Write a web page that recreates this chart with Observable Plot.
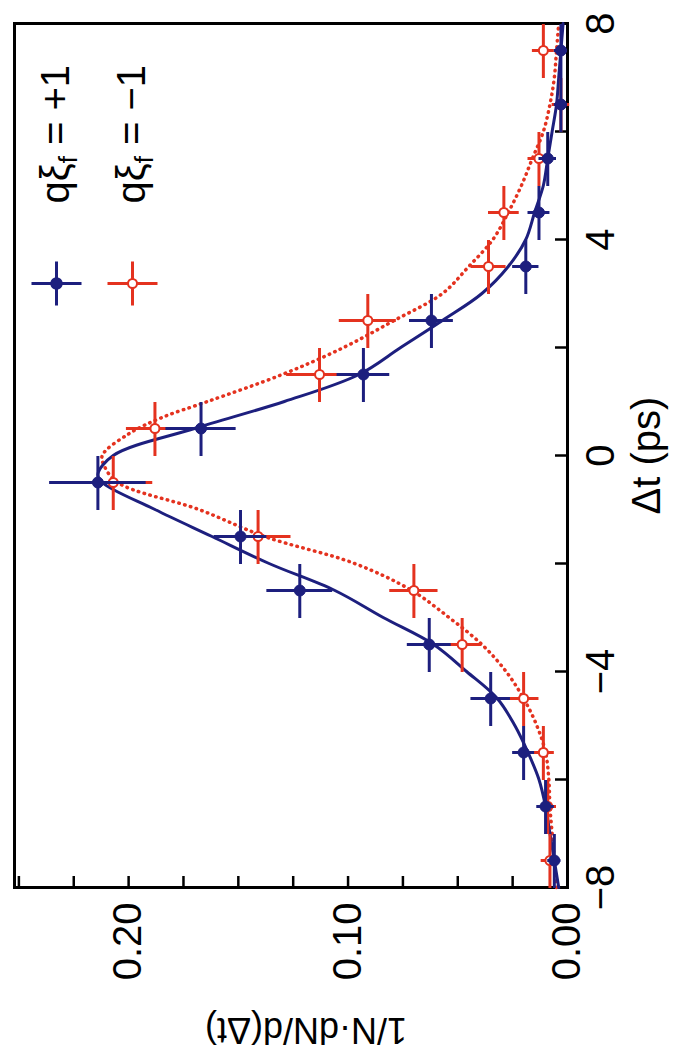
<!DOCTYPE html>
<html><head><meta charset="utf-8">
<script src="https://cdn.jsdelivr.net/npm/d3@7"></script>
<script src="https://cdn.jsdelivr.net/npm/@observablehq/plot@0.6"></script>
<style>
html,body{margin:0;padding:0;background:#fff;}
#wrap{position:relative;width:686px;height:1057px;overflow:hidden;background:#fff;}
#wrap svg{position:absolute;left:0;top:0;transform-origin:0 0;transform:translate(0px,1057px) rotate(-90deg);max-width:none !important;}
</style></head><body><div id="wrap"></div>
<script>
// bin centres (ps)
const deltaT = [-7.5,-6.5,-5.5,-4.5,-3.5,-2.5,-1.5,-0.5,0.5,1.5,2.5,3.5,4.5,5.5,6.5,7.5];
// q·ξf = +1 (blue, filled)
const blueVal = [0.006,0.010,0.020,0.035,0.063,0.122,0.149,0.214,0.167,0.093,0.062,0.019,0.013,0.009,0.003,0.003];
const blueErr = [0.003,0.004,0.005,0.009,0.010,0.015,0.012,0.022,0.016,0.012,0.010,0.006,0.005,0.004,0.003,0.003];
// q·ξf = −1 (red, open)
const redVal  = [0.008,0.009,0.011,0.020,0.048,0.070,0.141,0.207,0.188,0.113,0.091,0.036,0.029,0.013,0.003,0.011];
const redErr  = [0.004,0.004,0.005,0.007,0.009,0.011,0.015,0.018,0.013,0.015,0.013,0.008,0.007,0.005,0.004,0.005];
// fitted curves
const blueCurveT = [-8,-7.5,-7,-6.5,-6,-5.5,-5,-4.5,-4,-3.5,-3,-2.5,-2,-1.5,-1,-0.5,-0.35,0,0.5,1,1.5,2,2.5,3,3.5,4,4.5,5,5.5,6,6.5,7,7.5,8];
const blueCurveV = [0.004,0.006,0.008,0.010,0.013,0.018,0.024,0.032,0.046,0.061,0.084,0.106,0.136,0.162,0.188,0.212,0.214,0.207,0.170,0.129,0.095,0.076,0.057,0.039,0.027,0.019,0.015,0.011,0.009,0.007,0.005,0.004,0.003,0.002];
const redCurveT = [-8,-7.5,-7,-6.5,-6,-5.5,-5,-4.5,-4,-3.5,-3,-2.5,-2,-1.5,-1,-0.5,-0.2,0,0.4,0.7,1,1.5,2,2.5,3,3.5,4,4.5,5,5.5,6,6.5,7,7.5,8];
const redCurveV = [0.005,0.006,0.007,0.008,0.0085,0.010,0.014,0.020,0.028,0.039,0.054,0.071,0.097,0.138,0.168,0.205,0.211,0.212,0.200,0.185,0.164,0.130,0.102,0.079,0.057,0.045,0.034,0.027,0.021,0.016,0.011,0.008,0.006,0.005,0.004];
// ticks
const xTicks = [-8,-6,-4,-2,0,2,4,6,8];
const xLabels = [-8,-4,0,4,8];
const yTicks = [0.025,0.05,0.075,0.1,0.125,0.15,0.175,0.2,0.225,0.25];
const yLabels = [0,0.1,0.2];
const xTitle = "Δt (ps)";
const yTitle = "1/N·dN/d(Δt)";
const legendLabels = ["qξf = +1", "qξf = −1"];

const blue = "#1d1f7e", red = "#e4321f";
const bluePts = deltaT.map((t,i)=>({t, v: blueVal[i], e: blueErr[i]}));
const redPts = deltaT.map((t,i)=>({t, v: redVal[i], e: redErr[i]}));
const blueCurve = blueCurveT.map((t,i)=>({t, v: blueCurveV[i]}));
const redCurve = redCurveT.map((t,i)=>({t, v: redCurveV[i]}));

const crossSym = {draw(ctx){ ctx.moveTo(-22,0); ctx.lineTo(22,0); ctx.moveTo(0,-25); ctx.lineTo(0,25); }};

function errMarks(pts, color, open){
  return [
    Plot.ruleY(pts, {y: "v", x1: d=>d.t-0.5, x2: d=>d.t+0.5, stroke: color, strokeWidth: 3}),
    Plot.ruleX(pts, {x: "t", y1: d=>d.v-d.e, y2: d=>d.v+d.e, stroke: color, strokeWidth: 3}),
    Plot.dot(pts, {x: "t", y: "v", r: open ? 4.5 : 5.5, fill: open ? "white" : color, stroke: color, strokeWidth: open ? 2 : 1})
  ];
}

const W = 1057, H = 686;
const chart = Plot.plot({
  width: W, height: H,
  marginLeft: 169, marginRight: 24, marginTop: 14, marginBottom: 119,
  style: {fontFamily: "'Liberation Sans', Arial, sans-serif", fontSize: "40px", background: "white", color: "black", overflow: "visible"},
  x: {domain: [-8, 8], label: null},
  y: {domain: [0, 0.252], label: null},
  marks: [
    Plot.frame({stroke: "black", strokeWidth: 3}),
    Plot.tickX(xTicks, {x: d=>d, stroke: "black", strokeWidth: 2.5, insetTop: 541}),
    Plot.tickY(yTicks, {y: d=>d, stroke: "black", strokeWidth: 2.5, insetRight: 852}),
    Plot.axisX(xLabels, {tickSize: 0, tickPadding: 18, fontSize: 40, label: null}),
    Plot.axisY(yLabels, {tickSize: 0, tickPadding: 15, fontSize: 40, tickFormat: d3.format(".2f"), label: null}),
    Plot.text([xTitle], {text: d=>d, frameAnchor: "bottom", dy: 64, lineAnchor: "top", fontSize: 40}),
    Plot.text([yTitle], {text: d=>d, frameAnchor: "left", dx: -142, dy: 15, rotate: -90, textAnchor: "middle", lineAnchor: "middle", fontSize: 36}),
    Plot.line(redCurve, {x: "t", y: "v", stroke: red, strokeWidth: 3.5, strokeDasharray: "0.5,5.5", strokeLinecap: "round", curve: "catmull-rom"}),
    Plot.line(blueCurve, {x: "t", y: "v", stroke: blue, strokeWidth: 3, curve: "catmull-rom"}),
    ...errMarks(redPts, red, true),
    ...errMarks(bluePts, blue, false),
    // legend
    Plot.dot([0], {frameAnchor: "top-right", dx: -260, dy: 42, symbol: crossSym, r: 5, fill: "none", stroke: blue, strokeWidth: 3}),
    Plot.dot([0], {frameAnchor: "top-right", dx: -260, dy: 42, r: 5.5, fill: blue, stroke: blue}),
    Plot.dot([0], {frameAnchor: "top-right", dx: -260, dy: 118, symbol: crossSym, r: 5, fill: "none", stroke: red, strokeWidth: 3}),
    Plot.dot([0], {frameAnchor: "top-right", dx: -260, dy: 118, r: 4.5, fill: "white", stroke: red, strokeWidth: 2}),
    Plot.text([legendLabels[0]], {text: d=>d, frameAnchor: "top-right", dx: -180, dy: 42, textAnchor: "start", lineAnchor: "middle", fontSize: 40}),
    Plot.text([legendLabels[1]], {text: d=>d, frameAnchor: "top-right", dx: -180, dy: 118, textAnchor: "start", lineAnchor: "middle", fontSize: 40})
  ]
});
chart.style.maxWidth = "none";
document.getElementById("wrap").appendChild(chart);

// subscript f in legend labels
d3.select(chart).selectAll("text").filter(function(){ return this.textContent.includes("ξf"); }).each(function(){
  const s = this.textContent;
  const parts = s.split("ξf");
  const t = d3.select(this);
  t.text(null);
  t.append("tspan").text(parts[0] + "ξ");
  t.append("tspan").attr("font-size", "26px").attr("dy", "8").text("f");
  t.append("tspan").attr("dy", "-8").text(parts[1]);
});
</script></body></html>
